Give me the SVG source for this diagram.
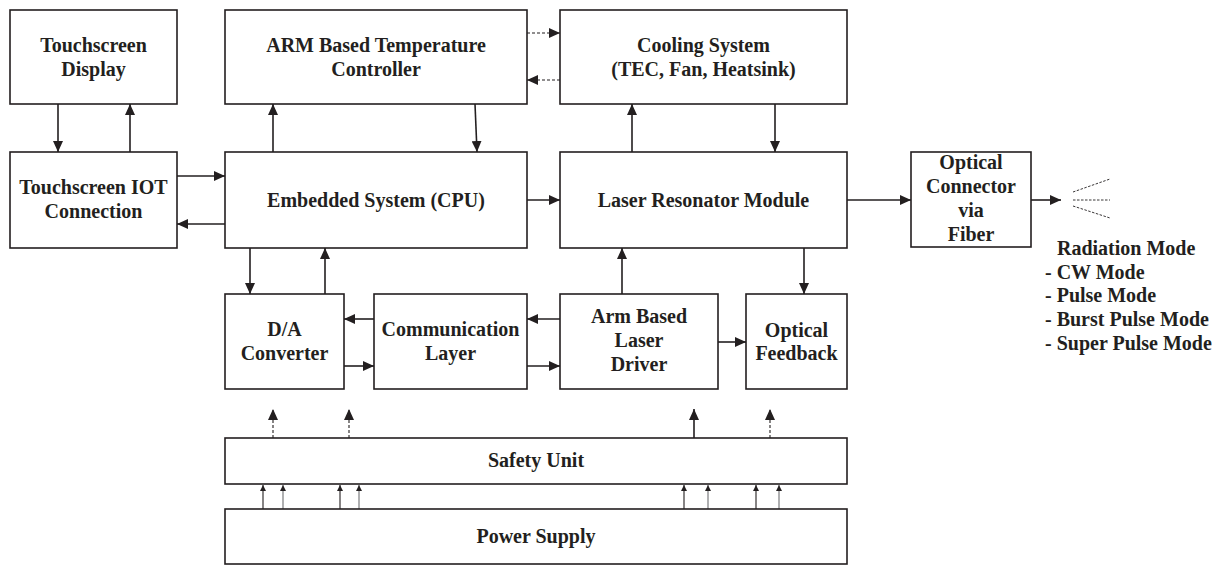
<svg xmlns="http://www.w3.org/2000/svg" width="1223" height="566" viewBox="0 0 1223 566">
<style>
.box{fill:#fff;stroke:#231f20;stroke-width:1.6}
.t{font-family:"Liberation Serif","Times New Roman",serif;font-weight:bold;font-size:20px;fill:#231f20;text-anchor:middle}
.tl{font-family:"Liberation Serif","Times New Roman",serif;font-weight:bold;font-size:20px;fill:#231f20}
.c{stroke:#231f20;stroke-width:1.6;fill:none;marker-end:url(#ah)}
.d{stroke:#231f20;stroke-width:1.1;stroke-dasharray:3,2;fill:none;marker-end:url(#ah)}
.s{stroke:#231f20;stroke-width:1.1;fill:none;marker-end:url(#sh)}
.g{stroke:#6d6e71;stroke-width:1.1;fill:none;marker-end:url(#sh)}
.r{stroke:#231f20;stroke-width:0.9;stroke-dasharray:2.5,1.5;fill:none}
</style>
<defs>
<marker id="ah" markerUnits="userSpaceOnUse" markerWidth="11" markerHeight="10" refX="11" refY="5" orient="auto">
<path d="M0,0 L11,5 L0,10 z" fill="#231f20"/>
</marker>
<marker id="sh" markerUnits="userSpaceOnUse" markerWidth="6" markerHeight="6" refX="6" refY="3" orient="auto">
<path d="M0,0 L6,3 L0,6 z" fill="#231f20"/>
</marker>
</defs>
<rect width="1223" height="566" fill="#fff"/>
<g id="connectors">
<line class="c" x1="58" y1="104" x2="58" y2="152"/>
<line class="c" x1="130" y1="152" x2="130" y2="104"/>
<line class="c" x1="273" y1="152" x2="273" y2="104"/>
<line class="c" x1="475" y1="104" x2="477" y2="152"/>
<line class="d" x1="527" y1="33" x2="560" y2="33"/>
<line class="d" x1="560" y1="80" x2="527" y2="80"/>
<line class="c" x1="632" y1="152" x2="632" y2="104"/>
<line class="c" x1="775" y1="104" x2="775" y2="152"/>
<line class="c" x1="177" y1="176" x2="225" y2="176"/>
<line class="c" x1="225" y1="224" x2="177" y2="224"/>
<line class="c" x1="527" y1="200" x2="560" y2="200"/>
<line class="c" x1="847" y1="200" x2="911" y2="200"/>
<line class="c" x1="1031" y1="200" x2="1061" y2="200"/>
<line class="r" x1="1073" y1="192" x2="1110" y2="179"/>
<line class="r" x1="1073" y1="200" x2="1110" y2="200"/>
<line class="r" x1="1073" y1="206" x2="1110" y2="218"/>
<line class="c" x1="250" y1="248" x2="250" y2="294"/>
<line class="c" x1="325" y1="294" x2="325" y2="248"/>
<line class="c" x1="374" y1="319" x2="344" y2="319"/>
<line class="c" x1="344" y1="366" x2="374" y2="366"/>
<line class="c" x1="560" y1="319" x2="527" y2="319"/>
<line class="c" x1="527" y1="366" x2="560" y2="366"/>
<line class="c" x1="622" y1="294" x2="622" y2="248"/>
<line class="c" x1="804" y1="248" x2="804" y2="294"/>
<line class="c" x1="718" y1="342" x2="746" y2="342"/>
<line class="d" x1="273" y1="438" x2="273" y2="409"/>
<line class="d" x1="349" y1="438" x2="349" y2="409"/>
<line class="c" x1="694" y1="438" x2="694" y2="409"/>
<line class="d" x1="770" y1="438" x2="770" y2="409"/>
<line class="s" x1="263" y1="509" x2="263" y2="485"/>
<line class="g" x1="283" y1="509" x2="283" y2="485"/>
<line class="s" x1="340" y1="509" x2="340" y2="485"/>
<line class="g" x1="359" y1="509" x2="359" y2="485"/>
<line class="s" x1="684" y1="509" x2="684" y2="485"/>
<line class="g" x1="708" y1="509" x2="708" y2="485"/>
<line class="s" x1="756" y1="509" x2="756" y2="485"/>
<line class="g" x1="779" y1="509" x2="779" y2="485"/>
</g>
<g id="touch-display">
<rect class="box" x="10" y="10" width="167" height="94"/>
<text class="t" x="93.5" y="52">Touchscreen</text>
<text class="t" x="93.5" y="76">Display</text>
</g>
<g id="touch-iot">
<rect class="box" x="10" y="152" width="167" height="96"/>
<text class="t" x="93.5" y="194">Touchscreen IOT</text>
<text class="t" x="93.5" y="218">Connection</text>
</g>
<g id="arm-temp">
<rect class="box" x="225" y="10" width="302" height="94"/>
<text class="t" x="376" y="52">ARM Based Temperature</text>
<text class="t" x="376" y="76">Controller</text>
</g>
<g id="cooling">
<rect class="box" x="560" y="10" width="287" height="94"/>
<text class="t" x="703.5" y="52">Cooling System</text>
<text class="t" x="703.5" y="76">(TEC, Fan, Heatsink)</text>
</g>
<g id="embedded">
<rect class="box" x="225" y="152" width="302" height="96"/>
<text class="t" x="376" y="207">Embedded System (CPU)</text>
</g>
<g id="resonator">
<rect class="box" x="560" y="152" width="287" height="96"/>
<text class="t" x="703.5" y="207">Laser Resonator Module</text>
</g>
<g id="optical-connector">
<rect class="box" x="911" y="152" width="120" height="95"/>
<text class="t" x="971" y="169">Optical</text>
<text class="t" x="971" y="193">Connector</text>
<text class="t" x="971" y="217">via</text>
<text class="t" x="971" y="241">Fiber</text>
</g>
<g id="radiation">
<text class="tl" x="1057" y="255">Radiation Mode</text>
<text class="tl" x="1045" y="279">- CW Mode</text>
<text class="tl" x="1045" y="302">- Pulse Mode</text>
<text class="tl" x="1045" y="326">- Burst Pulse Mode</text>
<text class="tl" x="1045" y="350">- Super Pulse Mode</text>
</g>
<g id="da">
<rect class="box" x="225" y="294" width="119" height="95"/>
<text class="t" x="284.5" y="336">D/A</text>
<text class="t" x="284.5" y="360">Converter</text>
</g>
<g id="comm">
<rect class="box" x="374" y="294" width="153" height="95"/>
<text class="t" x="450.5" y="336">Communication</text>
<text class="t" x="450.5" y="360">Layer</text>
</g>
<g id="driver">
<rect class="box" x="560" y="294" width="158" height="95"/>
<text class="t" x="639" y="323">Arm Based</text>
<text class="t" x="639" y="347">Laser</text>
<text class="t" x="639" y="371">Driver</text>
</g>
<g id="feedback">
<rect class="box" x="746" y="294" width="101" height="95"/>
<text class="t" x="796.5" y="337">Optical</text>
<text class="t" x="796.5" y="360">Feedback</text>
</g>
<g id="safety">
<rect class="box" x="225" y="438" width="622" height="46"/>
<text class="t" x="536" y="467">Safety Unit</text>
</g>
<g id="power">
<rect class="box" x="225" y="509" width="622" height="55"/>
<text class="t" x="536" y="543">Power Supply</text>
</g>
</svg>
